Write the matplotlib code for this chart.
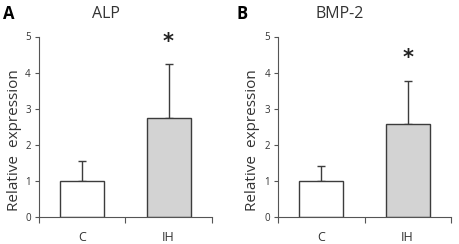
import matplotlib
matplotlib.use('Agg')
import matplotlib.pyplot as plt

groups = ['C', 'IH']
alp_mean = [1.0, 2.74]
alp_err = [0.55, 1.51]
bmp_mean = [1.0, 2.57]
bmp_err = [0.43, 1.20]
star_y = [4.85, 4.4]
titles = ['ALP', 'BMP-2']
letters = ['A', 'B']

plt.rcParams['font.family'] = ['Open Sans', 'DejaVu Sans']
W, H = 459, 244
fig = plt.figure(figsize=(W / 100, H / 100), dpi=100)

edge = '#3c3c3c'
txt = '#333333'
axis_col = '#555555'


def px(x0, y0, x1, y1):
    return [x0 / W, 1 - y1 / H, (x1 - x0) / W, (y1 - y0) / H]


# rect, means, errors, star height, ylabel x, letter x, title x (pixels)
panels = [
    (px(39, 36.5, 211.7, 217.3), alp_mean, alp_err, star_y[0], 14.5, 3, 106),
    (px(278.3, 36.5, 450.7, 217.3), bmp_mean, bmp_err, star_y[1], 252, 236, 340),
]

for i, (rect, mean, err, sy, ylx, lx, tx) in enumerate(panels):
    ax = fig.add_axes(rect)
    pos = [0.5, 1.5]
    ax.bar(pos, mean, width=0.51, color=['white', '#d3d3d3'],
           edgecolor=edge, linewidth=1.0, zorder=2)
    ax.errorbar(pos, mean, yerr=[[0, 0], err], fmt='none', ecolor=edge,
                elinewidth=1.0, capsize=3, capthick=1.0, zorder=1)
    ax.text(1.5, sy, '*', ha='center', va='center', fontsize=15,
            fontweight='bold', color='#222222', family='DejaVu Sans')
    ax.set_xlim(0, 2)
    ax.set_ylim(0, 5)
    ax.set_yticks(range(6))
    ax.set_xticks([0, 1, 2])
    ax.set_xticklabels([])
    ax.set_xticks(pos, minor=True)
    ax.set_xticklabels(groups, minor=True, fontsize=9, color=txt)
    ax.tick_params(axis='x', which='major', length=4, width=0.8,
                   color=axis_col, direction='out')
    ax.tick_params(axis='x', which='minor', length=0, pad=10)
    ax.tick_params(axis='y', length=3, width=0.8, color=axis_col,
                   labelsize=7, labelcolor=txt, pad=3)
    for s in ['top', 'right']:
        ax.spines[s].set_visible(False)
    for s in ['left', 'bottom']:
        ax.spines[s].set_color(axis_col)
        ax.spines[s].set_linewidth(0.8)
    fig.text(tx / W, 1 - 14 / H, titles[i], ha='center', va='center',
             fontsize=11.5, color=txt)
    fig.text(lx / W, 1 - 14 / H, letters[i], ha='left', va='center',
             fontsize=12, fontweight='bold', color='black')
    fig.text(ylx / W, 1 - 140 / H, 'Relative  expression', rotation=90,
             ha='center', va='center', fontsize=11, color=txt)

fig.savefig('out.png', dpi=100)
